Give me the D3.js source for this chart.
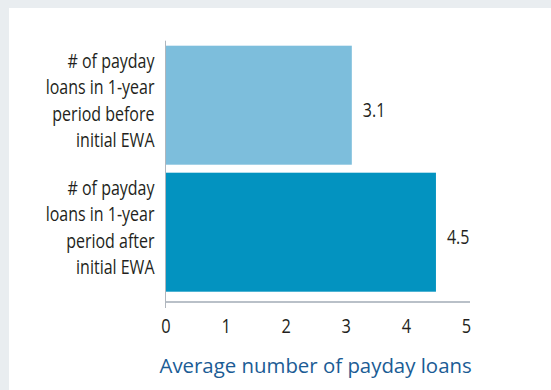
<!DOCTYPE html>
<html>
<head>
<meta charset="utf-8">
<script src="https://cdn.jsdelivr.net/npm/d3@7"></script>
<style>
  html, body { margin: 0; padding: 0; background: #e9edf0; }
  svg { display: block; }
</style>
</head>
<body>
<div class="chart"></div>
<script>
// chart data
var categories = [
  ['# of payday', 'loans in 1-year', 'period before', 'initial EWA'],
  ['# of payday', 'loans in 1-year', 'period after', 'initial EWA']
];
var values = [3.1, 4.5];
var valueLabels = ['3.1', '4.5'];
var barColors = ['#7dbedc', '#0393c0'];
var xTicks = [0, 1, 2, 3, 4, 5];
var xTitle = 'Average number of payday loans';

var width = 551, height = 390;
var font = '"Open Sans", sans-serif';
var ink = '#231f20';
var squeeze = 'scale(0.82,1)';   // fake a condensed face

var svg = d3.select('.chart')
  .append('svg')
    .attr('width', width)
    .attr('height', height);

// gray frame + white panel
svg.append('rect')
  .attr('width', width).attr('height', height)
  .attr('fill', '#e9edf0');
svg.append('rect')
  .attr('x', 9).attr('y', 8)
  .attr('width', width - 9).attr('height', height - 8)
  .attr('fill', '#ffffff');

var xScale = d3.scaleLinear()
  .domain([0, 5])
  .range([165.5, 466]);

var yScale = d3.scaleBand()
  .domain(d3.range(values.length))
  .range([45.7, 291.7])
  .paddingInner(0.063)
  .paddingOuter(0);

// x axis (line only, labels below)
var xAxis = d3.axisBottom(xScale)
  .tickValues(xTicks)
  .tickSize(0)
  .tickPadding(17)
  .tickFormat(d3.format('d'));

var gx = svg.append('g')
  .attr('transform', 'translate(0, 302)')
  .call(xAxis);
gx.select('.domain')
  .attr('d', 'M' + xScale(0) + ',0H' + (xScale(5) + 4))
  .attr('stroke', '#b9c0c8')
  .attr('stroke-width', 2);
gx.selectAll('text')
  .attr('fill', ink)
  .attr('transform', squeeze)
  .style('font-family', font)
  .style('font-weight', 500)
  .style('font-size', '20px');

// y axis line, runs a bit past the x axis
svg.append('line')
  .attr('x1', xScale(0)).attr('x2', xScale(0))
  .attr('y1', 40.7).attr('y2', 308)
  .attr('stroke', '#b0b6bd')
  .attr('stroke-width', 1);

// bars
svg.selectAll('.bar')
  .data(values)
  .enter()
  .append('rect')
    .attr('class', 'bar')
    .attr('x', xScale(0) + 0.5)
    .attr('y', (d, i) => yScale(i))
    .attr('width', d => xScale(d) - xScale(0) - 0.5)
    .attr('height', yScale.bandwidth())
    .attr('fill', (d, i) => barColors[i]);

// value labels
svg.selectAll('.val')
  .data(values)
  .enter()
  .append('g')
    .attr('class', 'val')
    .attr('transform', (d, i) => 'translate(' + (xScale(d) + 11) + ',' +
        (yScale(i) + yScale.bandwidth() / 2 + 12) + ')')
  .append('text')
    .attr('transform', squeeze)
    .attr('fill', ink)
    .style('font-family', font)
    .style('font-weight', 500)
    .style('font-size', '19.5px')
    .text((d, i) => valueLabels[i]);

// category labels, four lines each
var lineH = 26.5;
categories.forEach(function(lines, i) {
  var cy = yScale(i) + yScale.bandwidth() / 2;
  var t = svg.append('g')
      .attr('transform', 'translate(154.5,' + (cy - 37.5) + ')')
    .append('text')
      .attr('transform', squeeze)
      .attr('text-anchor', 'end')
      .attr('fill', ink)
      .style('font-family', font)
      .style('font-weight', 500)
      .style('font-size', '19.5px');
  lines.forEach(function(l, j) {
    t.append('tspan')
      .attr('x', 0)
      .attr('y', j * lineH)
      .text(l);
  });
});

// axis title
svg.append('text')
  .attr('x', 159.5)
  .attr('y', 372.5)
  .attr('fill', '#1b5c95')
  .style('font-family', font)
  .style('font-size', '20.4px')
  .text(xTitle);
</script>
</body>
</html>
